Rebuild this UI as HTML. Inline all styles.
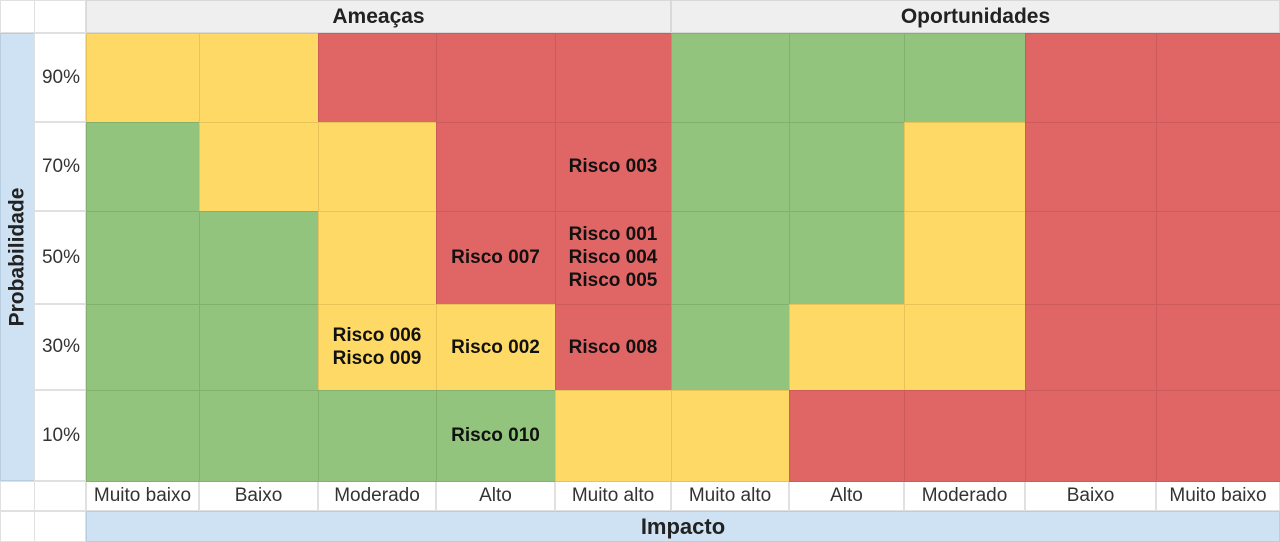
<!DOCTYPE html>
<html><head><meta charset="utf-8"><style>
body{margin:0;width:1280px;height:542px;overflow:hidden;background:#fff;font-family:"Liberation Sans",sans-serif;position:relative}
.c{position:absolute;box-sizing:border-box;display:flex;align-items:center;justify-content:center;text-align:center}
</style></head><body>
<div id="root"></div>
<script>
const probs=["90%","70%","50%","30%","10%"];
const impacts=["Muito baixo","Baixo","Moderado","Alto","Muito alto","Muito alto","Alto","Moderado","Baixo","Muito baixo"];
const grid=[
"YYRRRGGGRR",
"GYYRRGGYRR",
"GGYRRGGYRR",
"GGYYRGYYRR",
"GGGGYYRRRR"];
const risks=[[1,4,"Risco 003"],[2,3,"Risco 007"],[2,4,"Risco 001<br>Risco 004<br>Risco 005"],[3,2,"Risco 006<br>Risco 009"],[3,3,"Risco 002"],[3,4,"Risco 008"],[4,3,"Risco 010"]];
const colX=[86,199,318,436,555,671,789,904,1025,1156,1280];
const rowY=[33,122,211,304,390,481];
const fill={Y:"#FFD966",R:"#E06666",G:"#93C47D"};
const edge={Y:"#E8C35A",R:"#CC5C5C",G:"#84B06F"};
const root=document.getElementById('root');
function box(x,y,w,h,css,html){const d=document.createElement('div');d.className='c';d.style.cssText=`left:${x}px;top:${y}px;width:${w}px;height:${h}px;`+css;d.innerHTML=html||'';root.appendChild(d);return d;}
let d;
d=box(0,0,35,33,"border:1px solid #e0e0e0;");

d=box(34,0,52,33,"border:1px solid #e0e0e0;");

d=box(86,0,585,33,"background:#efefef;border:1px solid #d9d9d9;font-weight:bold;font-size:21px;color:#222;","Ameaças");

d=box(671,0,609,33,"background:#efefef;border:1px solid #d9d9d9;font-weight:bold;font-size:21px;color:#222;","Oportunidades");

d=box(0,33,35,448,"background:#CFE2F3;border:1px solid #b7cde0;","<span style='transform:rotate(-90deg);white-space:nowrap;font-weight:bold;font-size:21px;color:#222'>Probabilidade</span>");

d=box(0,481,35,30,"border:1px solid #e0e0e0;");

d=box(34,481,52,30,"border:1px solid #e0e0e0;");

d=box(0,511,35,31,"border:1px solid #e0e0e0;");

d=box(34,511,52,31,"border:1px solid #e0e0e0;");

d=box(86,511,1194,31,"background:#CFE2F3;border:1px solid #b7cde0;font-weight:bold;font-size:22px;color:#222;","Impacto");

probs.forEach((p,i)=>{
  const e=box(34,rowY[i],52,rowY[i+1]-rowY[i],"border:1px solid #e0e0e0;font-size:19px;color:#333;justify-content:flex-end;padding-right:5px;",p);
  
  
});
impacts.forEach((t,j)=>{
  const e=box(colX[j],481,colX[j+1]-colX[j],30,"border:1px solid #e0e0e0;font-size:19px;color:#333;white-space:nowrap;",t);
  
  
});
grid.forEach((row,i)=>{
  [...row].forEach((k,j)=>{
    const e=box(colX[j],rowY[i],colX[j+1]-colX[j]+1,rowY[i+1]-rowY[i]+1,`background:${fill[k]};border:1px solid ${edge[k]};`);
    
    
  });
});
risks.forEach(([i,j,t])=>{
  const e=box(colX[j],rowY[i],colX[j+1]-colX[j],rowY[i+1]-rowY[i],"font-weight:bold;font-size:19px;line-height:23px;color:#111;",t);
  
  
});
</script>
</body></html>
